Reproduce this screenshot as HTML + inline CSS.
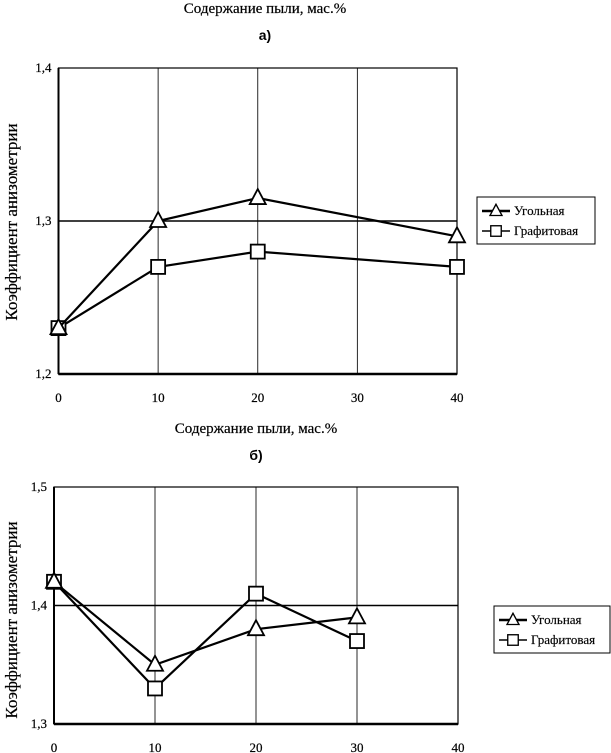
<!DOCTYPE html>
<html><head><meta charset="utf-8"><style>
html,body{margin:0;padding:0;background:#fff;}
svg{display:block;font-family:"Liberation Serif","DejaVu Serif",serif;}
</style></head><body>
<svg width="611" height="753" viewBox="0 0 611 753">
<g id="chartA"></g>
<g id="chartB"></g>
</svg>
<script>
const xCats = [0, 10, 20, 30, 40];
const xTickLabels = ["0", "10", "20", "30", "40"];
const aYTicks = [1.2, 1.3, 1.4];
const aYTickLabels = ["1,2", "1,3", "1,4"];
const aUgolX = [0, 10, 20, 40];
const aUgolY = [1.23, 1.30, 1.315, 1.29];
const aGrafX = [0, 10, 20, 40];
const aGrafY = [1.23, 1.27, 1.28, 1.27];
const bYTicks = [1.3, 1.4, 1.5];
const bYTickLabels = ["1,3", "1,4", "1,5"];
const bUgolX = [0, 10, 20, 30];
const bUgolY = [1.42, 1.35, 1.38, 1.39];
const bGrafX = [0, 10, 20, 30];
const bGrafY = [1.42, 1.33, 1.41, 1.37];
const seriesNames = ["Угольная", "Графитовая"];

const NS = "http://www.w3.org/2000/svg";
function mk(parent, tag, attrs, text){
  const e = document.createElementNS(NS, tag);
  for (const k in attrs) e.setAttribute(k, attrs[k]);
  if (text !== undefined) e.textContent = text;
  parent.appendChild(e);
  return e;
}
function tri(g, x, y){
  return mk(g, "polygon", {points:`${x},${y-9} ${x-8},${y+6} ${x+8},${y+6}`, fill:"#fff", stroke:"#000", "stroke-width":1.8});
}
function sq(g, x, y){
  return mk(g, "rect", {x:x-7, y:y-7, width:14, height:14, fill:"#fff", stroke:"#000", "stroke-width":1.8});
}
function drawChart(g, cfg){
  const sx = v => cfg.x0 + (v - 0) / 40 * (cfg.x1 - cfg.x0);
  const sy = v => cfg.yb + (v - cfg.ymin) / (cfg.ymax - cfg.ymin) * (cfg.yt - cfg.yb);
  let t = mk(g, "text", {x:cfg.titleX, y:cfg.titleY, "text-anchor":"middle", "font-size":15, stroke:"#000", "stroke-width":0.2}, "Содержание пыли, мас.%");
  
  
  t = mk(g, "text", {x:cfg.titleX, y:cfg.titleY + 27, "text-anchor":"middle", "font-size":14, "font-weight":"bold", "font-family":"Liberation Sans, sans-serif"}, cfg.letter);
  
  
  xCats.forEach((c, i) => {
    if (i === 0 || i === xCats.length - 1) return;
    const l = mk(g, "line", {x1:sx(c), x2:sx(c), y1:cfg.yt, y2:cfg.yb, stroke:"#111", "stroke-width":0.9});
    
    
  });
  cfg.yTicks.forEach((v, i) => {
    if (i === 0 || i === cfg.yTicks.length - 1) return;
    const l = mk(g, "line", {x1:cfg.x0, x2:cfg.x1, y1:sy(v), y2:sy(v), stroke:"#000", "stroke-width":1.4});
    
    
  });
  const frame = mk(g, "rect", {x:cfg.x0, y:cfg.yt, width:cfg.x1 - cfg.x0, height:cfg.yb - cfg.yt, fill:"none", stroke:"#000", "stroke-width":1.2});
  
  
  const ax = mk(g, "line", {x1:cfg.x0, x2:cfg.x1, y1:cfg.yb, y2:cfg.yb, stroke:"#000", "stroke-width":2.4});
  
  
  const ay = mk(g, "line", {x1:cfg.x0, x2:cfg.x0, y1:cfg.yt, y2:cfg.yb, stroke:"#000", "stroke-width":2});
  
  
  xCats.forEach((c, i) => {
    const tl = mk(g, "text", {x:sx(c), y:cfg.yb + 28, "text-anchor":"middle", "font-size":13, stroke:"#000", "stroke-width":0.2}, xTickLabels[i]);
    
    
  });
  cfg.yTicks.forEach((v, i) => {
    const tl = mk(g, "text", {x:cfg.x0 - 7, y:sy(v) + 4, "text-anchor":"end", "font-size":13, stroke:"#000", "stroke-width":0.2}, cfg.yTickLabels[i]);
    
    
  });
  const yt = mk(g, "text", {x:0, y:0, "text-anchor":"middle", "font-size":17, stroke:"#000", "stroke-width":0.2, transform:`translate(${cfg.yTitleX},${cfg.yTitleY}) rotate(-90)`}, "Коэффициент анизометрии");
  
  
  const series = [[cfg.gx, cfg.gy, sq, "series-grafitovaya"], [cfg.ux, cfg.uy, tri, "series-ugolnaya"]];
  series.forEach(([xs, ys, mark, name]) => {
    const pts = xs.map((x, i) => sx(x) + "," + sy(ys[i])).join(" ");
    const pl = mk(g, "polyline", {points:pts, fill:"none", stroke:"#000", "stroke-width":2.2});
    
    
    xs.forEach((x, i) => {
      const m = mark(g, sx(x), sy(ys[i]));
      
      
    });
  });
  const L = cfg.legend;
  const lg = mk(g, "g", {});
  
  
  mk(lg, "rect", {x:L.x, y:L.y, width:L.w, height:L.h, fill:"#fff", stroke:"#000", "stroke-width":1});
  [[tri, seriesNames[0], 2.5], [sq, seriesNames[1], 1.5]].forEach(([mark, name, sw], i) => {
    const cy = L.y + 14 + i * 20;
    const e = mk(lg, "g", {});
    
    
    mk(e, "line", {x1:L.x + 5, x2:L.x + 33, y1:cy, y2:cy, stroke:"#000", "stroke-width":sw});
    const m = mark(e, L.x + 19, cy);
    m.setAttribute("transform", `translate(${L.x + 19},${cy}) scale(0.75) translate(${-(L.x + 19)},${-cy})`);
    mk(e, "text", {x:L.x + 37, y:cy + 4, "font-size":13, stroke:"#000", "stroke-width":0.15}, name);
  });
}
drawChart(document.getElementById("chartA"), {
  x0:58.5, x1:457, yt:68, yb:374, ymin:1.2, ymax:1.4,
  yTicks:aYTicks, yTickLabels:aYTickLabels,
  ux:aUgolX, uy:aUgolY, gx:aGrafX, gy:aGrafY,
  letter:"а)", titleX:265, titleY:13, yTitleX:17, yTitleY:222,
  legend:{x:477, y:197, w:118, h:47}
});
drawChart(document.getElementById("chartB"), {
  x0:54, x1:458, yt:487, yb:724, ymin:1.3, ymax:1.5,
  yTicks:bYTicks, yTickLabels:bYTickLabels,
  ux:bUgolX, uy:bUgolY, gx:bGrafX, gy:bGrafY,
  letter:"б)", titleX:256, titleY:433, yTitleX:17, yTitleY:620,
  legend:{x:494, y:606, w:116, h:47}
});
</script>
</body></html>
